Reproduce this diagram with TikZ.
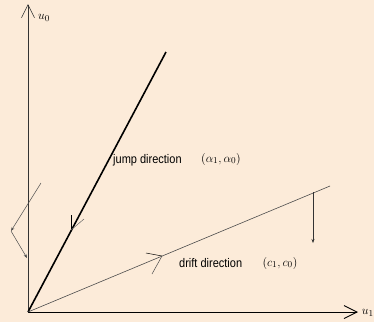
\documentclass[tikz,border=0pt]{standalone}
\usepackage{amsfonts,amssymb,amsmath}
\usepackage{fontspec}
\setmainfont[FakeStretch=0.88]{Liberation Sans}
\usepackage{xcolor}
\usetikzlibrary{arrows.meta}
\definecolor{peach}{RGB}{252,235,217}

\begin{document}
\begin{tikzpicture}[x=1pt,y=-1pt,>={Stealth[length=4pt,width=3pt]},
  axis/.style={-{Straight Barb[length=13pt,width=13pt]}},
  lbl/.style={font=\fontsize{12.5}{14}\selectfont,inner sep=0pt},
  mlbl/.style={font=\fontsize{13}{15}\selectfont,inner sep=0pt},
  barb/.style={line width=0.5pt}]
\useasboundingbox[fill=peach](0,0)rectangle(374,322);
\coordinate(O)at(28,312);
\coordinate(ytop)at(28,4);
\coordinate(xend)at(358,312);
\coordinate(jend)at(166,52);
\coordinate(dend)at(330,186);
% axes
\draw[axis,black!80,line width=0.6pt](O)--(ytop);
\node[mlbl,anchor=west](u0)at(38,18){$u_0$};
\draw[axis,line width=0.9pt](O)--(xend);
\node[mlbl,anchor=east](u1)at(374,313){$u_1$};
% jump and drift lines
\draw[line width=1.6pt](O)--(jend);
\draw[black!70,line width=0.6pt](O)--(dend);
% barbs on the lines
\coordinate(jtip)at(71,230);
\draw[barb](jtip)--(71,215);
\draw[barb,black!60](jtip)--(84,219);
\coordinate(dtip)at(162,256);
\draw[barb](dtip)--(146,253);
\draw[barb,black!70](dtip)--(152,274);
% small moves
\draw[->,black!80,line width=0.5pt](313,192)--(313,243);
\coordinate(kink)at(11,231);
\draw[->,black!70,line width=0.5pt](41,183)--(kink);
\draw[->,black!70,line width=0.5pt](kink)--(27,258);
% labels
\node[lbl,anchor=west](jump)at(113,160){jump direction};
\node[mlbl](alpha)at(221,159){$(\alpha_1,\alpha_0)$};
\node[lbl,anchor=west](drift)at(179,263){drift direction};
\node[mlbl](cc)at(280,263){$(c_1,c_0)$};
\end{tikzpicture}
\end{document}
